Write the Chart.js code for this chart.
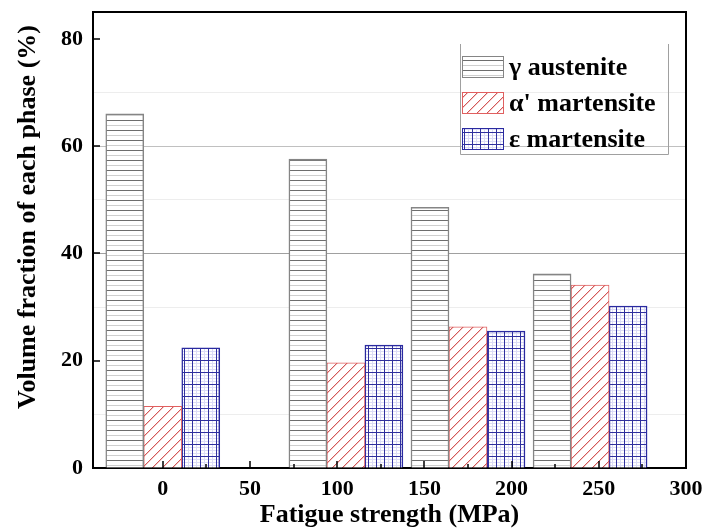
<!DOCTYPE html>
<html>
<head>
<meta charset="utf-8">
<script src="https://cdn.jsdelivr.net/npm/chart.js@4"></script>
<style>
html, body { margin: 0; padding: 0; background: #fff; }
</style>
</head>
<body>
<canvas id="phaseChart" width="702" height="531"></canvas>
<script>
// values
const stressLevels = [0, 105, 175, 245];
const austenite = [66.0, 57.6, 48.6, 36.2];
const alphaMartensite = [11.5, 19.6, 26.3, 34.1];
const epsMartensite = [22.4, 22.9, 25.5, 30.2];
const seriesLabels = ["γ austenite", "α' martensite", "ε martensite"];
const xTickLabels = [0, 50, 100, 150, 200, 250, 300];
const yTickLabels = [0, 20, 40, 60, 80];

const serif = "'Liberation Serif', 'Times New Roman', serif";
const canvas = document.getElementById("phaseChart");
const ctx = canvas.getContext("2d");

function makePattern(w, h, draw) {
    const c = document.createElement("canvas");
    c.width = w;
    c.height = h;
    const g = c.getContext("2d");
    g.fillStyle = "#fff";
    g.fillRect(0, 0, w, h);
    draw(g);
    return ctx.createPattern(c, "repeat");
}

const horizLines = makePattern(4, 10, g => {
    g.fillStyle = "#6e6e6e";
    g.fillRect(0, 0, 4, 1);
    g.fillStyle = "#cfcfcf";
    g.fillRect(0, 5, 4, 1);
});

// "/" hatch, one line per 10px tile
const diagLines = makePattern(10, 10, g => {
    for (let i = 0; i < 10; i++) {
        g.fillStyle = "#d35858";
        g.fillRect(i, 9 - i, 1, 1);
        g.fillStyle = "#f3caca";
        g.fillRect(i, (10 - i) % 10, 1, 1);
    }
});

const gridLines = makePattern(8, 12, g => {
    g.fillStyle = "#dcdcf6";
    g.fillRect(4, 0, 1, 12);
    g.fillRect(0, 3, 8, 1);
    g.fillRect(0, 6, 8, 1);
    g.fillRect(0, 9, 8, 1);
    g.fillStyle = "#30309e";
    g.fillRect(0, 0, 1, 12);
    g.fillRect(0, 0, 8, 1);
});

function toPoints(values) {
    return values.map((v, i) => ({ x: stressLevels[i], y: v }));
}

// inside tick marks, top/right frame, y title and legend
const extras = {
    id: "extras",
    afterDraw(chart) {
        const c = chart.ctx;
        const area = chart.chartArea;
        const x = chart.scales.x;
        const y = chart.scales.y;
        c.save();

        c.strokeStyle = "#000";
        c.lineWidth = 2;
        c.beginPath();
        c.moveTo(area.left, area.top);
        c.lineTo(area.right, area.top);
        c.lineTo(area.right, area.bottom);
        c.stroke();

        c.lineWidth = 1.5;
        c.beginPath();
        x.ticks.forEach(t => {
            if (t.value < 0 || t.value >= 300) return;
            const px = Math.round(x.getPixelForValue(t.value));
            const len = t.value % 50 === 0 ? 7 : 4;
            c.moveTo(px, area.bottom);
            c.lineTo(px, area.bottom - len);
        });
        y.ticks.forEach(t => {
            if (!yTickLabels.includes(t.value) || t.value === 0) return;
            const py = Math.round(y.getPixelForValue(t.value));
            c.moveTo(area.left, py);
            c.lineTo(area.left + 7, py);
        });
        c.stroke();

        // y axis title
        c.fillStyle = "#000";
        c.font = "bold 26px " + serif;
        c.textAlign = "center";
        c.textBaseline = "middle";
        c.translate(28, 217);
        c.rotate(-Math.PI / 2);
        c.fillText("Volume fraction of each phase (%)", 0, 0);
        c.setTransform(1, 0, 0, 1, 0, 0);

        // legend box
        const box = { left: 460, top: 44, right: 668, bottom: 154 };
        c.strokeStyle = "#a0a0a0";
        c.lineWidth = 1;
        c.beginPath();
        c.moveTo(box.left + 0.5, box.top);
        c.lineTo(box.left + 0.5, box.bottom + 0.5);
        c.lineTo(box.right + 0.5, box.bottom + 0.5);
        c.lineTo(box.right + 0.5, box.top);
        c.stroke();

        c.font = "bold 26px " + serif;
        c.textAlign = "left";
        chart.data.datasets.forEach((ds, i) => {
            const cy = 67 + i * 36;
            c.fillStyle = ds.backgroundColor;
            c.fillRect(462, cy - 11, 42, 22);
            c.strokeStyle = ds.borderColor;
            c.lineWidth = 1;
            c.strokeRect(462.5, cy - 10.5, 41, 21);
            c.fillStyle = "#000";
            c.fillText(ds.label, 509, cy + 1);
        });
        c.restore();
    }
};

new Chart(ctx, {
    type: "bar",
    data: {
        datasets: [
            {
                label: seriesLabels[0],
                data: toPoints(austenite),
                backgroundColor: horizLines,
                borderColor: "#858585",
                borderWidth: 1.5
            },
            {
                label: seriesLabels[1],
                data: toPoints(alphaMartensite),
                backgroundColor: diagLines,
                borderColor: "#e06060",
                borderWidth: 1
            },
            {
                label: seriesLabels[2],
                data: toPoints(epsMartensite),
                backgroundColor: gridLines,
                borderColor: "#2a2aa0",
                borderWidth: 1.5
            }
        ]
    },
    options: {
        responsive: false,
        animation: false,
        barThickness: 38,
        layout: { padding: { top: 12, right: 16, left: 0, bottom: 0 } },
        plugins: {
            legend: { display: false },
            tooltip: { enabled: false }
        },
        scales: {
            x: {
                type: "linear",
                min: -40,
                max: 300,
                offset: false,
                afterFit: s => {
                    s.height = 63;
                    s.paddingLeft = 0;
                    s.paddingRight = 0;
                },
                ticks: {
                    stepSize: 25,
                    autoSkip: false,
                    maxRotation: 0,
                    padding: 8,
                    color: "#000",
                    font: { family: serif, size: 22, weight: "bold" },
                    callback: v => (xTickLabels.includes(v) ? v : "")
                },
                grid: { drawOnChartArea: false, drawTicks: false },
                border: { color: "#000", width: 2 },
                title: {
                    display: true,
                    text: "Fatigue strength (MPa)",
                    color: "#000",
                    padding: { top: 0, bottom: 0 },
                    font: { family: serif, size: 26, weight: "bold" }
                }
            },
            y: {
                min: 0,
                max: 85,
                afterFit: s => {
                    s.width = 93;
                    s.paddingTop = 0;
                    s.paddingBottom = 0;
                },
                ticks: {
                    stepSize: 10,
                    padding: 10,
                    color: "#000",
                    font: { family: serif, size: 22, weight: "bold" },
                    callback: v => (yTickLabels.includes(v) ? v : "")
                },
                grid: {
                    drawTicks: false,
                    color: c => {
                        const v = c.tick ? c.tick.value : 0;
                        if (v === 40) return "#a0a0a0";
                        if (v === 60) return "#c0c0c0";
                        if (v % 20 === 10) return "#ededed";
                        return "rgba(0,0,0,0)";
                    }
                },
                border: { color: "#000", width: 2 }
            }
        }
    },
    plugins: [extras]
});
</script>
</body>
</html>
